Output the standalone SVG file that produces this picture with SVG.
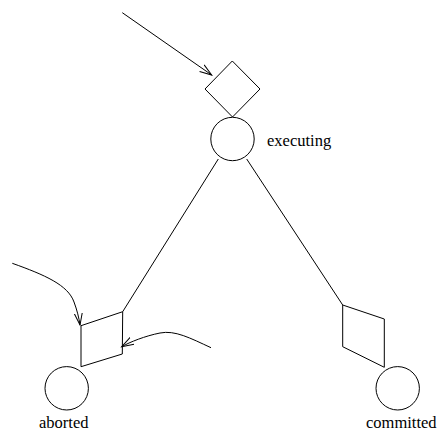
<svg xmlns="http://www.w3.org/2000/svg" width="438" height="431" viewBox="0 0 438 431">
<defs>
<style>
.s{fill:none;stroke:#000;stroke-width:1}
.t{font-family:"Liberation Serif","Times New Roman",serif;font-size:16.5px;fill:#000}
</style>
<marker id="a" markerUnits="userSpaceOnUse" markerWidth="14" markerHeight="14" refX="12" refY="5" orient="auto" viewBox="0 0 14 10">
<path d="M0,1 L12,5 L0,9" fill="none" stroke="#000" stroke-width="1"/>
</marker>
</defs>
<rect width="438" height="431" fill="#fff"/>
<g id="executing">
<path class="s" d="M232.3,61 L260,89 L232.5,117 L205,89 Z"/>
<circle class="s" cx="232.5" cy="139" r="21.7"/>
<text class="t" x="267" y="146">executing</text>
</g>
<g id="aborted">
<path class="s" d="M81,325.7 L122.7,311.7 L122.3,354 L81,366.7 Z"/>
<circle class="s" cx="66.7" cy="388.3" r="21.7"/>
<text class="t" x="39" y="428">aborted</text>
</g>
<g id="committed">
<path class="s" d="M342.7,305 L384.3,319 L384.3,367.3 L342.7,346.7 Z"/>
<circle class="s" cx="397.7" cy="388.3" r="21.7"/>
<text class="t" x="366" y="428">committed</text>
</g>
<g id="connectors">
<path class="s" d="M122.3,12.7 L211.7,75" marker-end="url(#a)"/>
<path class="s" d="M218.3,159 L122.7,311.7"/>
<path class="s" d="M246.7,159 L342.7,305"/>
<path class="s" d="M12.3,263.3 C45,275 68,285 74,302 C77,310 79,318 80,325" marker-end="url(#a)"/>
<path class="s" d="M211,347.7 C190,338 175,330 160,333 C145,336 130,342 121.7,346.7" marker-end="url(#a)"/>
</g>
</svg>
